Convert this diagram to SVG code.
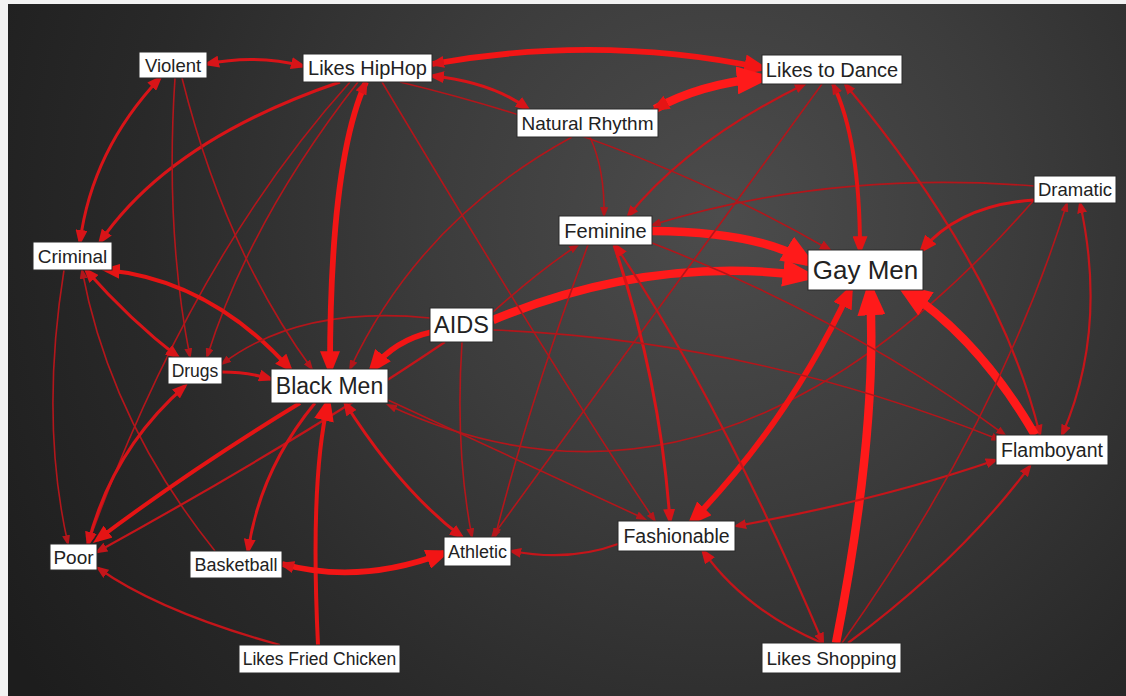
<svg xmlns="http://www.w3.org/2000/svg" width="1126" height="696" viewBox="0 0 1126 696">
<defs>
<radialGradient id="bg" gradientUnits="userSpaceOnUse" cx="720" cy="215" r="830">
<stop offset="0" stop-color="#4c4c4c"/>
<stop offset="0.35" stop-color="#3c3c3c"/>
<stop offset="0.7" stop-color="#292929"/>
<stop offset="1" stop-color="#1d1d1d"/>
</radialGradient>
<marker id="m1" viewBox="0 0 10 10" refX="8" refY="5" markerUnits="userSpaceOnUse" markerWidth="11" markerHeight="8" orient="auto-start-reverse" preserveAspectRatio="none"><path class="ah" d="M0,0L10,5L0,10z" fill="#b3161b"/></marker>
<marker id="m2" viewBox="0 0 10 10" refX="7.8" refY="5" markerUnits="userSpaceOnUse" markerWidth="13" markerHeight="10" orient="auto-start-reverse" preserveAspectRatio="none"><path class="ah" d="M0,0L10,5L0,10z" fill="#c4151a"/></marker>
<marker id="m3" viewBox="0 0 10 10" refX="7.5" refY="5" markerUnits="userSpaceOnUse" markerWidth="16" markerHeight="12" orient="auto-start-reverse" preserveAspectRatio="none"><path class="ah" d="M0,0L10,5L0,10z" fill="#d81418"/></marker>
<marker id="m4" viewBox="0 0 10 10" refX="7.3" refY="5" markerUnits="userSpaceOnUse" markerWidth="19" markerHeight="15" orient="auto-start-reverse" preserveAspectRatio="none"><path class="ah" d="M0,0L10,5L0,10z" fill="#e51414"/></marker>
<marker id="m5" viewBox="0 0 10 10" refX="7.1" refY="5" markerUnits="userSpaceOnUse" markerWidth="25" markerHeight="20" orient="auto-start-reverse" preserveAspectRatio="none"><path class="ah" d="M0,0L10,5L0,10z" fill="#f21515"/></marker>
<marker id="m6" viewBox="0 0 10 10" refX="7" refY="5" markerUnits="userSpaceOnUse" markerWidth="36" markerHeight="28" orient="auto-start-reverse" preserveAspectRatio="none"><path class="ah" d="M0,0L10,5L0,10z" fill="#ff1a1a"/></marker>
</defs>
<style>
#edges path{fill:none}
.e1{stroke:#b3161b;stroke-width:1.6}
.e2{stroke:#c4151a;stroke-width:2.2}
.e3{stroke:#d81418;stroke-width:3}
.e4{stroke:#e51414;stroke-width:4}
.e5{stroke:#f21515;stroke-width:5.8}
.e6{stroke:#ff1a1a;stroke-width:8.5}
.node rect{fill:#ffffff;stroke:#2a2a2a;stroke-width:1}
.node text{font-family:"Liberation Sans",Arial,sans-serif;fill:#222222;text-anchor:middle}
</style>
<rect width="1126" height="696" fill="#f2f2f2"/>
<rect x="8" y="4" width="1118" height="692" fill="url(#bg)"/>
<g id="edges">
<path class="e3" d="M207,64 Q255,54 303,66" marker-start="url(#m3)" marker-end="url(#m3)"/>
<path class="e5" d="M432,64 Q600,34 762,68" marker-start="url(#m3)" marker-end="url(#m5)"/>
<path class="e3" d="M432,76 Q492,82 528,109" marker-start="url(#m3)" marker-end="url(#m3)"/>
<path class="e6" d="M655,109 Q700,84 762,78" marker-start="url(#m4)" marker-end="url(#m6)"/>
<path class="e3" d="M160,78 Q92,150 80,242" marker-start="url(#m3)" marker-end="url(#m3)"/>
<path class="e3" d="M340,82 Q170,140 100,242" marker-end="url(#m3)"/>
<path class="e1" d="M175,78 Q165,230 190,357" marker-end="url(#m1)"/>
<path class="e1" d="M182,78 Q225,250 312,369" marker-end="url(#m1)"/>
<path class="e1" d="M358,82 Q250,220 207,357" marker-end="url(#m1)"/>
<path class="e1" d="M350,82 Q190,260 88,544" marker-end="url(#m1)"/>
<path class="e4" d="M106,270 Q210,280 290,369" marker-start="url(#m4)" marker-end="url(#m4)"/>
<path class="e3" d="M86,270 Q130,320 178,357" marker-start="url(#m3)" marker-end="url(#m3)"/>
<path class="e1" d="M64,270 Q40,420 68,544" marker-end="url(#m1)"/>
<path class="e1" d="M215,551 Q110,420 82,270" marker-end="url(#m1)"/>
<path class="e3" d="M222,372 Q248,372 271,379" marker-end="url(#m3)"/>
<path class="e1" d="M430,318 Q300,305 222,364" marker-end="url(#m1)"/>
<path class="e5" d="M366,82 Q330,160 330,369" marker-start="url(#m3)" marker-end="url(#m5)"/>
<path class="e5" d="M432,332 Q395,340 372,369" marker-end="url(#m5)"/>
<path class="e1" d="M572,137 Q420,220 350,369" marker-end="url(#m1)"/>
<path class="e4" d="M300,403 Q190,470 97,540" marker-end="url(#m4)"/>
<path class="e2" d="M445,342 Q300,440 97,552" marker-end="url(#m2)"/>
<path class="e3" d="M315,403 Q260,470 248,551" marker-end="url(#m3)"/>
<path class="e4" d="M318,645 Q310,480 328,403" marker-end="url(#m5)"/>
<path class="e3" d="M345,403 Q400,490 462,537" marker-start="url(#m3)" marker-end="url(#m3)"/>
<path class="e1" d="M1034,200 Q720,560 388,405" marker-end="url(#m1)"/>
<path class="e1" d="M388,400 Q540,470 645,519" marker-end="url(#m1)"/>
<path class="e2" d="M618,544 Q570,562 511,551" marker-end="url(#m2)"/>
<path class="e1" d="M462,342 Q455,450 472,537" marker-end="url(#m1)"/>
<path class="e6" d="M493,320 Q650,255 808,276" marker-end="url(#m6)"/>
<path class="e1" d="M493,312 Q540,270 578,245" marker-end="url(#m1)"/>
<path class="e6" d="M652,231 Q760,232 808,262" marker-end="url(#m6)"/>
<path class="e1" d="M590,137 Q605,170 604,216" marker-end="url(#m1)"/>
<path class="e2" d="M805,84 Q690,140 628,216" marker-start="url(#m2)" marker-end="url(#m2)"/>
<path class="e1" d="M1034,186 Q830,170 652,225" marker-end="url(#m1)"/>
<path class="e4" d="M833,84 Q860,140 860,250" marker-start="url(#m2)" marker-end="url(#m4)"/>
<path class="e2" d="M1040,435 Q1000,270 845,84" marker-start="url(#m2)" marker-end="url(#m2)"/>
<path class="e1" d="M822,84 Q680,280 492,537" marker-end="url(#m1)"/>
<path class="e3" d="M1034,200 Q960,205 922,250" marker-end="url(#m4)"/>
<path class="e6" d="M1035,435 Q980,340 905,290" marker-end="url(#m6)"/>
<path class="e6" d="M836,643 Q878,430 870,290" marker-end="url(#m6)"/>
<path class="e5" d="M692,521 Q790,420 850,290" marker-start="url(#m5)" marker-end="url(#m5)"/>
<path class="e1" d="M400,82 Q640,140 830,250" marker-end="url(#m2)"/>
<path class="e1" d="M652,243 Q850,320 1005,435" marker-end="url(#m1)"/>
<path class="e1" d="M588,245 Q530,400 495,537" marker-end="url(#m1)"/>
<path class="e3" d="M614,245 Q660,380 670,521" marker-end="url(#m3)"/>
<path class="e2" d="M823,643 Q720,400 615,245" marker-start="url(#m2)" marker-end="url(#m3)"/>
<path class="e1" d="M382,82 Q560,380 655,521" marker-end="url(#m1)"/>
<path class="e2" d="M822,643 Q745,610 703,551" marker-end="url(#m3)"/>
<path class="e2" d="M736,526 Q880,500 996,460" marker-start="url(#m2)" marker-end="url(#m2)"/>
<path class="e2" d="M848,643 Q960,560 1030,466" marker-end="url(#m2)"/>
<path class="e1" d="M842,643 Q1000,420 1067,203" marker-end="url(#m1)"/>
<path class="e2" d="M1080,203 Q1108,330 1062,435" marker-start="url(#m2)" marker-end="url(#m2)"/>
<path class="e3" d="M88,544 Q112,450 185,386" marker-start="url(#m3)" marker-end="url(#m3)"/>
<path class="e2" d="M280,645 Q160,612 98,568" marker-end="url(#m2)"/>
<path class="e5" d="M282,564 Q360,585 444,553" marker-start="url(#m3)" marker-end="url(#m5)"/>
<path class="e1" d="M493,330 Q750,340 1000,440" marker-end="url(#m1)"/>
</g>
<g id="n-violent" class="node"><rect x="139" y="52" width="68" height="26"/><text x="173" y="71.5" font-size="18.5">Violent</text></g>
<g id="n-likes-hiphop" class="node"><rect x="303" y="54" width="129" height="28"/><text x="367.5" y="75" font-size="20">Likes HipHop</text></g>
<g id="n-likes-to-dance" class="node"><rect x="762" y="55" width="140" height="29"/><text x="832" y="76.5" font-size="20">Likes to Dance</text></g>
<g id="n-natural-rhythm" class="node"><rect x="517" y="109" width="141" height="28"/><text x="587.5" y="129.7" font-size="19">Natural Rhythm</text></g>
<g id="n-dramatic" class="node"><rect x="1034" y="176" width="82" height="27"/><text x="1075" y="196" font-size="18.5">Dramatic</text></g>
<g id="n-criminal" class="node"><rect x="33" y="242" width="79" height="28"/><text x="72.5" y="262.7" font-size="19">Criminal</text></g>
<g id="n-feminine" class="node"><rect x="559" y="216" width="93" height="29"/><text x="605.5" y="237.5" font-size="20">Feminine</text></g>
<g id="n-gay-men" class="node"><rect x="808" y="250" width="115" height="40"/><text x="865.5" y="279" font-size="26">Gay Men</text></g>
<g id="n-aids" class="node"><rect x="430" y="308" width="63" height="34"/><text x="461.5" y="333.2" font-size="23.5">AIDS</text></g>
<g id="n-drugs" class="node"><rect x="168" y="357" width="54" height="27"/><text x="195" y="376.6" font-size="17.5">Drugs</text></g>
<g id="n-black-men" class="node"><rect x="271" y="369" width="117" height="34"/><text x="329.5" y="394" font-size="23">Black Men</text></g>
<g id="n-flamboyant" class="node"><rect x="996" y="435" width="112" height="30"/><text x="1052" y="456.8" font-size="19.5">Flamboyant</text></g>
<g id="n-fashionable" class="node"><rect x="618" y="521" width="117" height="30"/><text x="676.5" y="542.8" font-size="19.5">Fashionable</text></g>
<g id="n-athletic" class="node"><rect x="444" y="537" width="67" height="29"/><text x="477.5" y="557.8" font-size="18">Athletic</text></g>
<g id="n-poor" class="node"><rect x="50" y="544" width="47" height="26"/><text x="73.5" y="563.6" font-size="19">Poor</text></g>
<g id="n-basketball" class="node"><rect x="190" y="551" width="92" height="27"/><text x="236" y="570.8" font-size="18">Basketball</text></g>
<g id="n-likes-fried-chicken" class="node"><rect x="239" y="645" width="161" height="28"/><text x="319.5" y="665" font-size="17.5">Likes Fried Chicken</text></g>
<g id="n-likes-shopping" class="node"><rect x="762" y="643" width="139" height="30"/><text x="831.5" y="664.6" font-size="19">Likes Shopping</text></g>
</svg>
